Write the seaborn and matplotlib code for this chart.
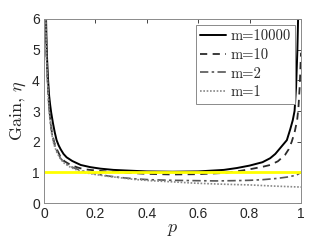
import matplotlib
matplotlib.use("Agg")
import matplotlib.pyplot as plt
import seaborn as sns

# values
p_m10000 = [0.004, 0.006, 0.008, 0.010, 0.012, 0.016, 0.020, 0.024, 0.028, 0.035,
            0.042, 0.049, 0.057, 0.065, 0.076, 0.088, 0.110, 0.143, 0.180, 0.220,
            0.270, 0.320, 0.400, 0.500, 0.600, 0.700, 0.750, 0.800, 0.850, 0.880,
            0.900, 0.918, 0.932, 0.945, 0.958, 0.968, 0.975, 0.981, 0.986, 0.990]
eta_m10000 = [8.0, 7.0, 6.0, 5.2, 4.7, 4.0, 3.5, 3.2, 2.95, 2.6,
              2.3, 2.05, 1.88, 1.75, 1.6, 1.49, 1.37, 1.24, 1.17, 1.12,
              1.08, 1.06, 1.03, 1.02, 1.03, 1.08, 1.14, 1.22, 1.33, 1.46,
              1.60, 1.78, 1.92, 2.05, 2.4, 2.7, 3.0, 3.8, 5.0, 6.5]

p_m10 = [0.004, 0.007, 0.010, 0.013, 0.016, 0.020, 0.025, 0.030, 0.039, 0.050,
         0.065, 0.080, 0.104, 0.130, 0.156, 0.214, 0.260, 0.320, 0.400, 0.500,
         0.600, 0.700, 0.750, 0.800, 0.850, 0.880, 0.910, 0.938, 0.952, 0.964,
         0.975, 0.985, 0.990, 0.995, 1.000]
eta_m10 = [8.0, 6.0, 4.8, 4.2, 3.7, 3.1, 2.7, 2.35, 2.0, 1.75,
           1.49, 1.36, 1.24, 1.16, 1.10, 1.05, 1.02, 0.99, 0.95, 0.93,
           0.94, 0.98, 1.03, 1.10, 1.18, 1.24, 1.36, 1.57, 1.75, 2.0,
           2.3, 2.7, 3.1, 3.8, 4.9]

p_m2 = [0.004, 0.007, 0.010, 0.013, 0.016, 0.020, 0.025, 0.030, 0.039, 0.050,
        0.065, 0.080, 0.104, 0.130, 0.160, 0.200, 0.250, 0.300, 0.350, 0.410,
        0.500, 0.580, 0.670, 0.750, 0.800, 0.850, 0.905, 0.950, 0.983, 1.000]
eta_m2 = [8.0, 6.0, 4.75, 4.15, 3.65, 3.05, 2.65, 2.3, 1.95, 1.7,
          1.45, 1.32, 1.19, 1.10, 1.02, 0.95, 0.88, 0.83, 0.79, 0.76,
          0.74, 0.73, 0.72, 0.73, 0.74, 0.76, 0.80, 0.85, 0.91, 1.0]

p_m1 = [0.004, 0.007, 0.010, 0.013, 0.016, 0.020, 0.025, 0.030, 0.039, 0.050,
        0.065, 0.080, 0.104, 0.130, 0.160, 0.200, 0.250, 0.300, 0.350, 0.410,
        0.500, 0.580, 0.670, 0.750, 0.800, 0.900, 1.000]
eta_m1 = [8.0, 6.0, 4.7, 4.1, 3.6, 3.0, 2.6, 2.25, 1.9, 1.65,
          1.42, 1.29, 1.16, 1.07, 0.99, 0.93, 0.87, 0.82, 0.77, 0.73,
          0.69, 0.65, 0.62, 0.60, 0.59, 0.55, 0.52]

ref_p = [0.0, 1.0]
ref_eta = [1.0, 1.0]

series = [
    ("m=10000", p_m10000, eta_m10000, "#000000", "-", 1.4),
    ("m=10", p_m10, eta_m10, "#2b2b2b", (0, (4, 3)), 1.3),
    ("m=2", p_m2, eta_m2, "#555555", (0, (5, 2, 1.5, 2)), 1.2),
    ("m=1", p_m1, eta_m1, "#888888", (0, (1, 1)), 1.2),
]

sns.set_style("white")
plt.rcParams["font.family"] = ["Liberation Sans", "DejaVu Sans"]
plt.rcParams["mathtext.fontset"] = "cm"

fig = plt.figure(figsize=(3.32, 2.49), dpi=100)
ax = fig.add_axes([0.1325, 0.1847, 0.7741, 0.739])

for label, px, py, col, ls, lw in series:
    sns.lineplot(x=px, y=py, ax=ax, color=col, linestyle=ls, linewidth=lw,
                 label=label)

sns.lineplot(x=ref_p, y=ref_eta, ax=ax, color="#ffff00", linewidth=2.0)

ax.set_xlim(0, 1)
ax.set_ylim(0, 6)
ax.set_xticks([0, 0.2, 0.4, 0.6, 0.8, 1])
ax.set_xticklabels(["0", "0.2", "0.4", "0.6", "0.8", "1"])
ax.set_yticks([0, 1, 2, 3, 4, 5, 6])
ax.tick_params(direction="in", length=3, width=0.6, top=True, right=True,
               labelsize=10, colors="#262626", pad=3)
for sp in ax.spines.values():
    sp.set_visible(True)
    sp.set_color("#8a8a8a")
    sp.set_linewidth(0.7)

ax.set_xlabel(r"$p$", fontsize=13, labelpad=0)
ax.set_ylabel(r"Gain, $\eta$", fontsize=13, labelpad=3, family="cmr10")

leg = ax.legend(loc="upper right", prop={"family": "cmr10", "size": 10.5},
                frameon=True, fancybox=False, framealpha=1,
                edgecolor="#8a8a8a", borderaxespad=0.4, handlelength=1.8,
                handletextpad=0.3, labelspacing=0.35, borderpad=0.3)
leg.get_frame().set_linewidth(0.7)

fig.savefig("out.png", dpi=100)
